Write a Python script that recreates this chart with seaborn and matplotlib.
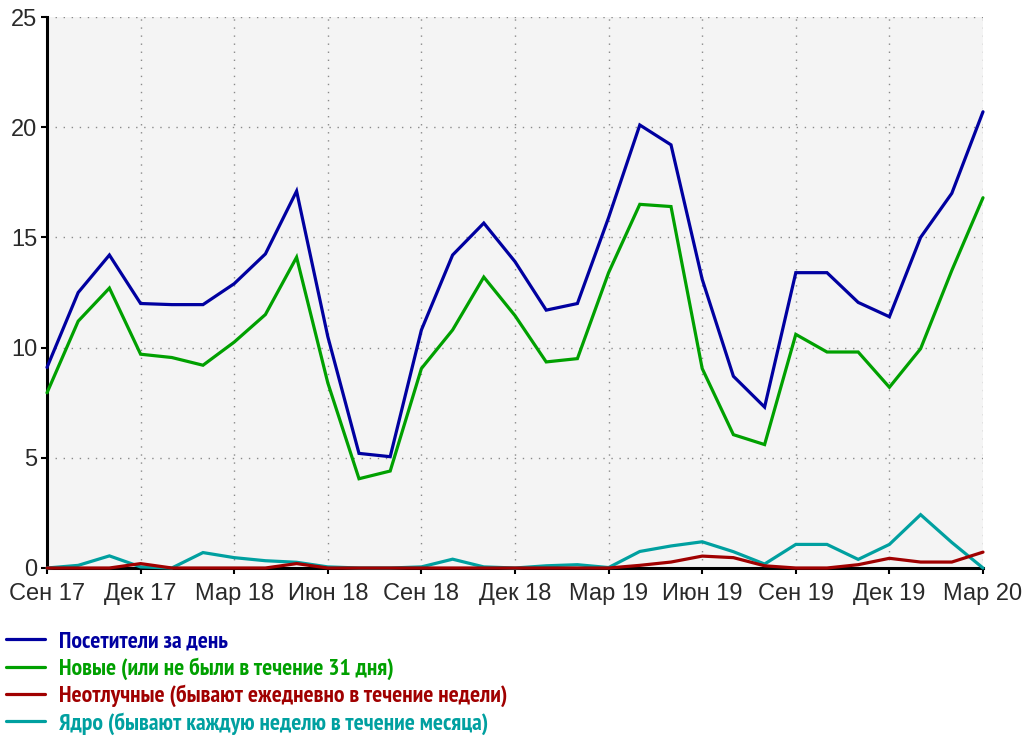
import matplotlib
matplotlib.use("Agg")
import matplotlib.pyplot as plt
import seaborn as sns
import pandas as pd

# Monthly visitor statistics, Sep 2017 .. Mar 2020
months = [
    "2017-09", "2017-10", "2017-11", "2017-12", "2018-01", "2018-02", "2018-03",
    "2018-04", "2018-05", "2018-06", "2018-07", "2018-08", "2018-09", "2018-10",
    "2018-11", "2018-12", "2019-01", "2019-02", "2019-03", "2019-04", "2019-05",
    "2019-06", "2019-07", "2019-08", "2019-09", "2019-10", "2019-11", "2019-12",
    "2020-01", "2020-02", "2020-03",
]

visitors = [9.1, 12.5, 14.2, 12.0, 11.95, 11.95, 12.9, 14.25, 17.1, 10.5, 5.2,
            5.05, 10.8, 14.2, 15.65, 13.9, 11.7, 12.0, 15.9, 20.1, 19.2, 13.1,
            8.7, 7.3, 13.4, 13.4, 12.05, 11.4, 15.0, 17.0, 20.7]
new_visitors = [7.95, 11.2, 12.7, 9.7, 9.55, 9.2, 10.25, 11.5, 14.1, 8.4, 4.05,
                4.4, 9.05, 10.8, 13.2, 11.45, 9.35, 9.5, 13.4, 16.5, 16.4, 9.05,
                6.05, 5.6, 10.6, 9.8, 9.8, 8.2, 9.95, 13.5, 16.8]
daily_regulars = [0, 0, 0, 0.2, 0, 0, 0, 0, 0.2, 0, 0, 0, 0, 0, 0, 0, 0, 0, 0,
                  0.12, 0.27, 0.54, 0.47, 0.1, 0, 0, 0.15, 0.44, 0.27, 0.27, 0.72]
core = [0, 0.12, 0.55, 0.05, 0, 0.7, 0.47, 0.33, 0.26, 0.05, 0, 0, 0.05, 0.4,
        0.05, 0, 0.1, 0.15, 0.02, 0.75, 1.0, 1.19, 0.74, 0.18, 1.07, 1.07, 0.39,
        1.07, 2.42, 1.16, 0]

series_names = [
    "Посетители за день",
    "Новые (или не были в течение 31 дня)",
    "Неотлучные (бывают ежедневно в течение недели)",
    "Ядро (бывают каждую неделю в течение месяца)",
]
series_colors = ["#0000a0", "#00a000", "#a00000", "#00a0a0"]

tick_months = ["2017-09", "2017-12", "2018-03", "2018-06", "2018-09", "2018-12",
               "2019-03", "2019-06", "2019-09", "2019-12", "2020-03"]
tick_labels = ["Сен 17", "Дек 17", "Мар 18", "Июн 18", "Сен 18", "Дек 18",
               "Мар 19", "Июн 19", "Сен 19", "Дек 19", "Мар 20"]

# long-form table for seaborn
frames = []
for name, vals in zip(series_names, [visitors, new_visitors, daily_regulars, core]):
    frames.append(pd.DataFrame({"pos": range(len(months)), "value": vals, "series": name}))
df = pd.concat(frames, ignore_index=True)

sns.set_theme(style="white")
plt.rcParams["font.family"] = ["Liberation Sans", "DejaVu Sans"]

W, H = 1027, 740
fig = plt.figure(figsize=(W / 100, H / 100), dpi=100)
ax = fig.add_axes([47 / W, 1 - 568 / H, (983 - 47) / W, (568 - 17) / H])
ax.set_facecolor("#f4f4f4")

sns.lineplot(data=df, x="pos", y="value", hue="series", hue_order=series_names,
             palette=series_colors, linewidth=2.3, ax=ax, legend=False, sort=False)

# red line sits on top of the teal one near zero
zorders = [3, 3, 5, 4]
for line, z in zip(ax.get_lines(), zorders):
    line.set_zorder(z)
    line.set_clip_on(False)
    line.set_solid_joinstyle("miter")

ax.set_xlim(0, len(months) - 1)
ax.set_ylim(0, 25)
ax.set_xticks([months.index(m) for m in tick_months])
ax.set_xticklabels(tick_labels)
ax.set_yticks([0, 5, 10, 15, 20, 25])
ax.set_xlabel("")
ax.set_ylabel("")

ax.grid(True, color="#8a8a8a", linestyle=(0, (1, 4.8)), linewidth=1.0)
ax.set_axisbelow(True)

for side in ["top", "right"]:
    ax.spines[side].set_visible(False)
for side in ["left", "bottom"]:
    ax.spines[side].set_color("black")
    ax.spines[side].set_linewidth(2.2)
    ax.spines[side].set_zorder(2)

ax.tick_params(axis="both", which="major", direction="out", length=4.5, width=1.5,
               color="black", labelsize=17, labelcolor="#2a2a2a")
ax.tick_params(axis="x", pad=6, bottom=True)
ax.tick_params(axis="y", pad=2.5, left=True)

handles = ax.get_lines()[:4]
leg = fig.legend(handles, series_names, loc="upper left",
                 bbox_to_anchor=(6 / W, 1 - 631 / H), frameon=False,
                 prop={"family": ["PT Sans Narrow", "Roboto Condensed", "Liberation Sans"],
                       "weight": "bold", "size": 17},
                 handlelength=1.65, handletextpad=0.6, labelspacing=0.2,
                 borderpad=0, borderaxespad=0)
for text, color in zip(leg.get_texts(), series_colors):
    text.set_color(color)
for lh in leg.get_lines():
    lh.set_linewidth(2.3)

fig.savefig("out.png", dpi=100)
